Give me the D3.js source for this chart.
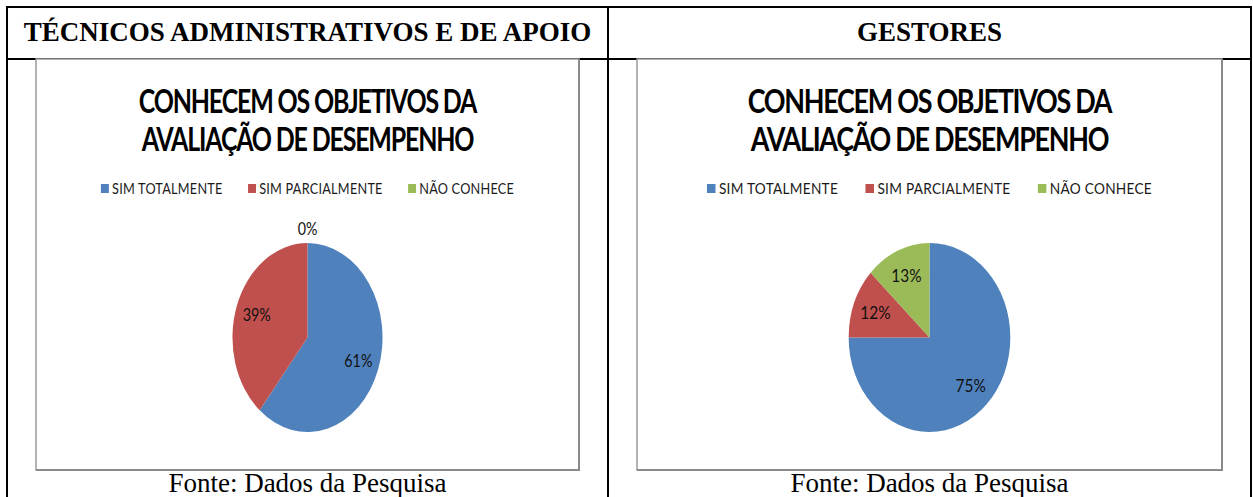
<!DOCTYPE html>
<html>
<head>
<meta charset="utf-8">
<script src="https://cdn.jsdelivr.net/npm/d3@7"></script>
<style>
  html, body { margin: 0; padding: 0; background: #fff; }
  svg { display: block; }
</style>
</head>
<body>
<div id="chart"></div>
<script>
/* ── Data ─────────────────────────────────────────────────────────────── */
const CATEGORIES      = ['SIM TOTALMENTE', 'SIM PARCIALMENTE', 'NÃO CONHECE'];
const SLICE_COLORS    = ['#4F81BD', '#C0504D', '#9BBB59'];
const TECNICOS_VALUES = [61, 39, 0];
const GESTORES_VALUES = [75, 12, 13];
const PANEL_HEADERS   = ['TÉCNICOS ADMINISTRATIVOS E DE APOIO', 'GESTORES'];
const CHART_TITLE     = ['CONHECEM OS OBJETIVOS DA', 'AVALIAÇÃO DE DESEMPENHO'];
const SOURCE_NOTE     = 'Fonte: Dados da Pesquisa';

/* ── Layout ───────────────────────────────────────────────────────────── */
const W = 1253, H = 497;
const TBL_L = 7, TBL_R = 1251, TBL_T = 7, HEAD_B = 59, DIVIDER = 608;
const BOX_PAD = 29, BOX_H = 411;
const NATIVE_W = 684;          // chart drawn at this width, then squeezed into its box
const PIE_CY = 278.5, PIE_R = 94.5;

const svg = d3.select('#chart').append('svg')
  .attr('width', W).attr('height', H)
  .attr('viewBox', `0 0 ${W} ${H}`);

const columns = [
  { x0: TBL_L, x1: DIVIDER, values: TECNICOS_VALUES, header: PANEL_HEADERS[0] },
  { x0: DIVIDER, x1: TBL_R, values: GESTORES_VALUES, header: PANEL_HEADERS[1] },
];

const colorScale = d3.scaleOrdinal().domain(CATEGORIES).range(SLICE_COLORS);

/* ── Table frame ──────────────────────────────────────────────────────── */
const frame = svg.append('g').attr('stroke', '#000').attr('stroke-width', 2);
frame.append('line').attr('x1', TBL_L - 1).attr('x2', TBL_R + 1).attr('y1', TBL_T).attr('y2', TBL_T);
frame.append('line').attr('x1', TBL_L - 1).attr('x2', TBL_R + 1).attr('y1', HEAD_B).attr('y2', HEAD_B);
[TBL_L, DIVIDER, TBL_R].forEach(x => {
  frame.append('line').attr('x1', x).attr('x2', x).attr('y1', TBL_T - 1).attr('y2', H);
});

columns.forEach(col => {
  const cx = (col.x0 + col.x1) / 2;

  // header cell
  svg.append('text')
    .attr('x', cx).attr('y', 41)
    .attr('text-anchor', 'middle')
    .attr('font-family', '"Liberation Serif", "Times New Roman", serif')
    .attr('font-weight', 'bold')
    .attr('font-size', '27px')
    .attr('fill', '#000')
    .text(col.header);

  // source note (the page cuts it just under the baseline)
  svg.append('text')
    .attr('x', cx).attr('y', 492)
    .attr('text-anchor', 'middle')
    .attr('font-family', '"Liberation Serif", "Times New Roman", serif')
    .attr('font-size', '27px')
    .attr('fill', '#000')
    .text(SOURCE_NOTE);

  drawPieChart(col.x0 + BOX_PAD, HEAD_B, col.x1 - col.x0 - 2 * BOX_PAD, col.values);
});

/* ── One Excel-style pie chart, squeezed horizontally into its box ────── */
function drawPieChart(bx, by, bw, values) {
  const sx = bw / NATIVE_W;

  // chart area border (gray with a slightly heavier right/bottom edge)
  svg.append('rect')
    .attr('x', bx).attr('y', by)
    .attr('width', bw).attr('height', BOX_H)
    .attr('fill', '#fff')
    .attr('stroke', '#9a9a9a').attr('stroke-width', 1.5);
  svg.append('path')
    .attr('d', `M${bx + bw},${by} V${by + BOX_H} H${bx}`)
    .attr('fill', 'none').attr('stroke', '#8a8a8a').attr('stroke-width', 2);

  const g = svg.append('g').attr('transform', `translate(${bx},${by}) scale(${sx},1)`);
  const cx = NATIVE_W / 2;

  // title
  g.append('text')
    .attr('text-anchor', 'middle')
    .attr('font-family', 'Lato, "Open Sans", sans-serif')
    .attr('font-weight', 'bold')
    .attr('font-size', '31.5px')
    .attr('letter-spacing', '-1.5px')
    .attr('fill', '#000')
    .selectAll('tspan').data(CHART_TITLE).join('tspan')
    .attr('x', cx)
    .attr('y', (d, i) => 54 + i * 38)
    .text(d => d);

  // legend
  const leg = g.append('g').attr('font-family', 'Lato, "Open Sans", sans-serif')
    .attr('font-size', '16px').attr('fill', '#1a1a1a');
  const items = leg.selectAll('g').data(CATEGORIES).join('g');
  items.append('rect')
    .attr('y', 125).attr('width', 10).attr('height', 9)
    .attr('fill', d => colorScale(d));
  items.append('text')
    .attr('x', 14).attr('y', 135)
    .attr('letter-spacing', '0.3px')
    .text(d => d);
  const gap = 32;
  items.each(function() {
    d3.select(this).attr('data-w', this.getBBox().width);
  });
  const total = d3.sum(items.nodes(), n => +n.getAttribute('data-w')) + gap * (CATEGORIES.length - 1);
  let lx = cx - total / 2;
  items.attr('transform', function() {
    const t = `translate(${lx},0)`;
    lx += +this.getAttribute('data-w') + gap;
    return t;
  });

  // pie
  const pie = d3.pie().sort(null).value(d => d.value);
  const arcs = pie(values.map((v, i) => ({ cat: CATEGORIES[i], value: v })));
  const arc = d3.arc().innerRadius(0).outerRadius(PIE_R);

  const pg = g.append('g').attr('transform', `translate(${cx},${PIE_CY})`);
  pg.selectAll('path').data(arcs).join('path')
    .attr('d', arc)
    .attr('fill', d => colorScale(d.data.cat));

  // data labels: inside for real slices, just outside for empty ones
  const labelPos = d => {
    const r = d.data.value === 0 ? PIE_R * 1.15 : PIE_R * 0.72;
    return d3.arc().innerRadius(r).outerRadius(r).centroid(d);
  };
  pg.selectAll('text').data(arcs).join('text')
    .attr('transform', d => `translate(${labelPos(d)})`)
    .attr('text-anchor', 'middle')
    .attr('dy', '0.36em')
    .attr('font-family', 'Lato, "Open Sans", sans-serif')
    .attr('font-size', '18px')
    .attr('fill', '#111')
    .text(d => `${d.data.value}%`);
}
</script>
</body>
</html>
